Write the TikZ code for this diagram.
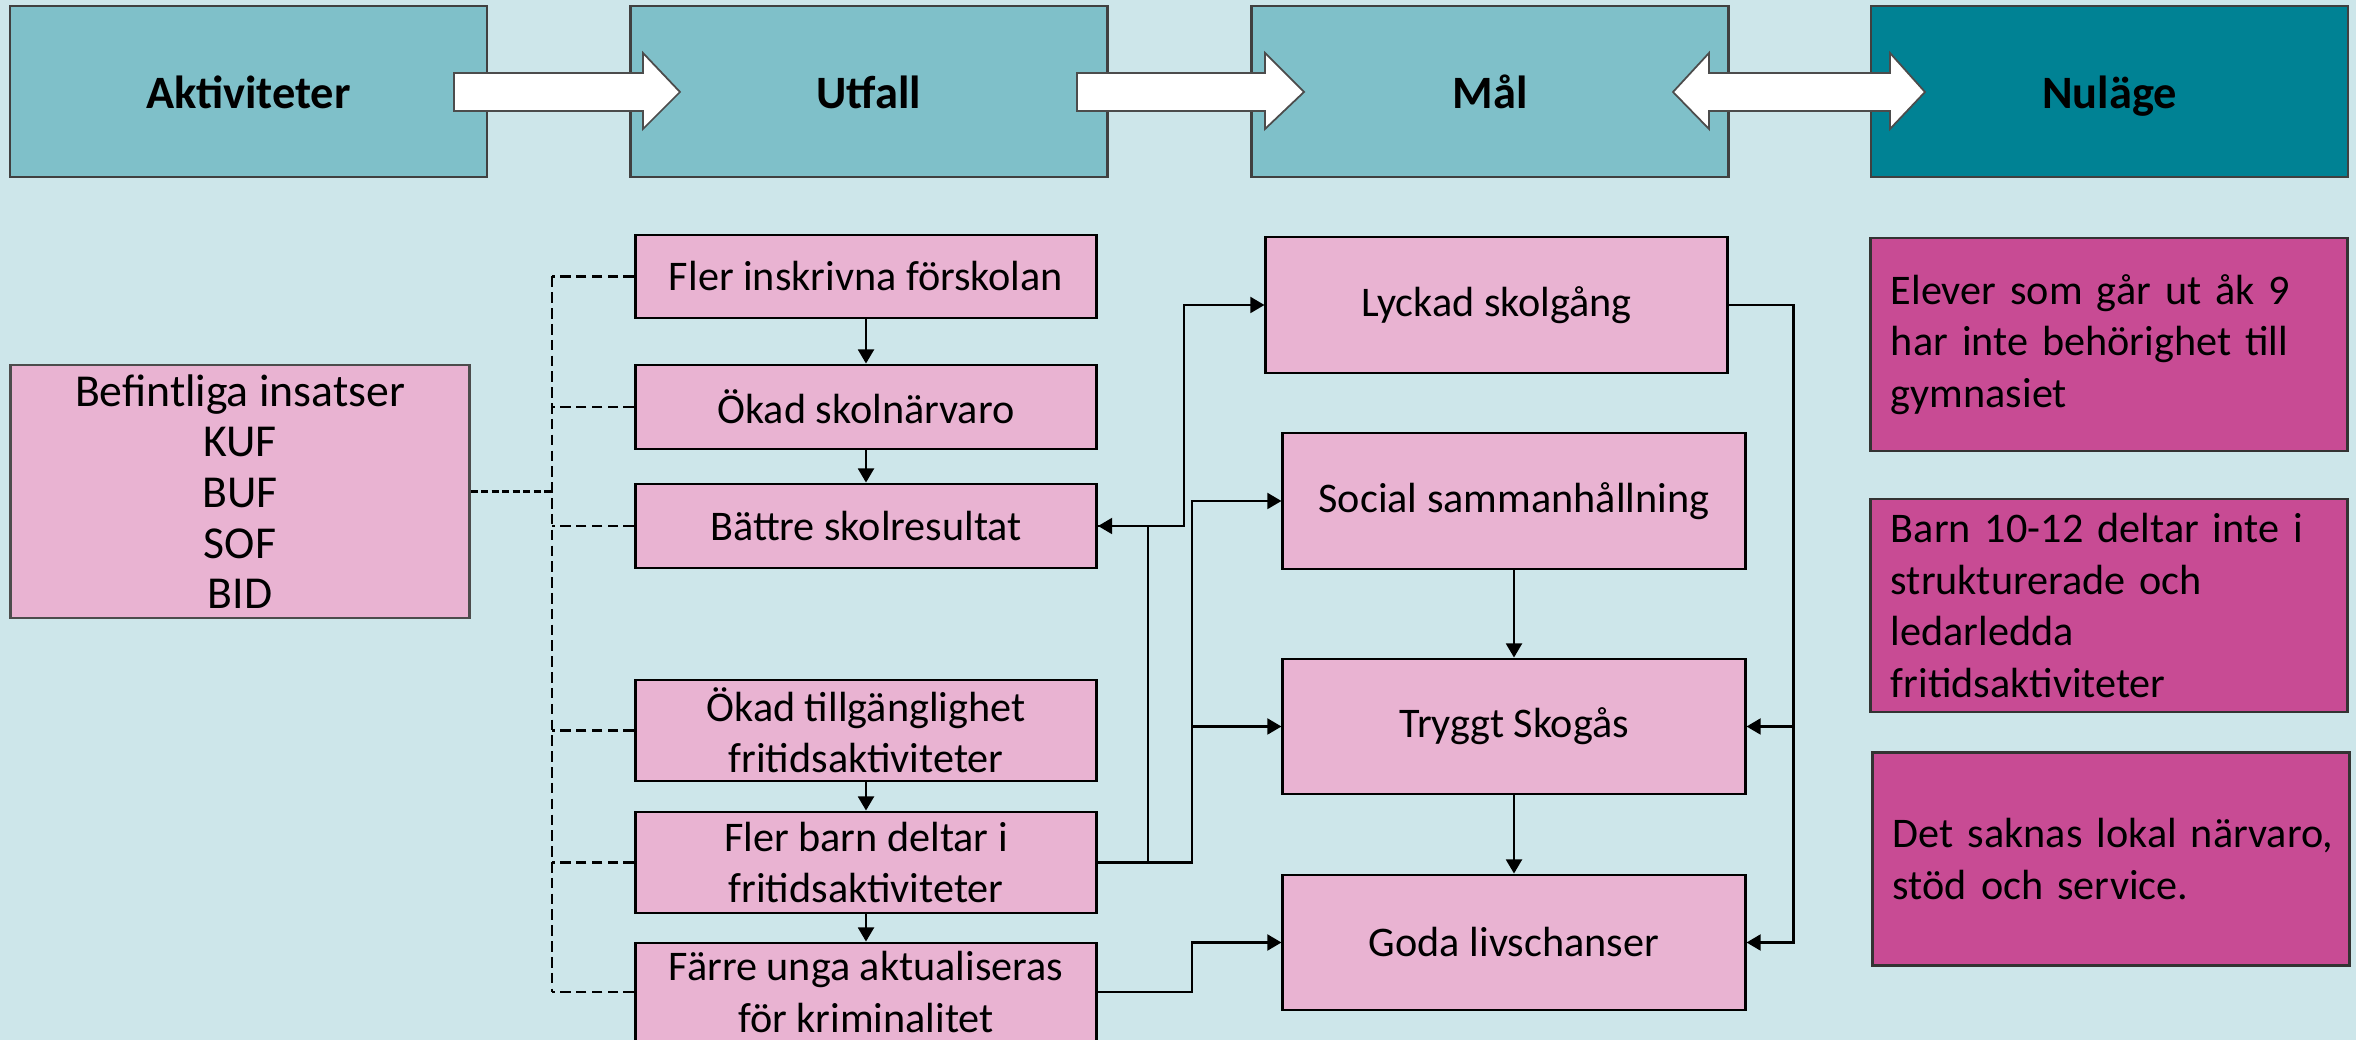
\documentclass[tikz,border=0pt]{standalone}
\usepackage{fontspec}
\setmainfont{Carlito}
\usetikzlibrary{arrows.meta}

\definecolor{bakgrund}{RGB}{205,230,234}
\definecolor{rubrik}{RGB}{127,192,201}
\definecolor{nulage}{RGB}{0,130,148}
\definecolor{rosa}{RGB}{233,179,210}
\definecolor{lila}{RGB}{200,75,148}

\begin{document}
\begin{tikzpicture}[x=0.01cm,y=-0.01cm,
  rubrikbox/.style={draw=black!75,line width=0.7pt,fill=rubrik,minimum width=4.77cm,minimum height=1.71cm,text height=0.34cm,text depth=0pt,font=\bfseries\fontsize{13.2}{16}\selectfont},
  ruta/.style={draw=black,line width=0.8pt,fill=rosa,minimum width=4.61cm,align=center,inner sep=0pt,font=\fontsize{12}{14.6}\selectfont},
  nuruta/.style={draw=black!80,line width=0.8pt,fill=lila,text width=4.76cm,inner xsep=0pt,inner ysep=0pt,minimum height=2.13cm,align=left,
    execute at begin node={\leftskip=0.2cm\hyphenpenalty=10000\relax},font=\fontsize{12}{14.6}\selectfont},
  pil/.style={-{Triangle[length=4pt,width=4.5pt]},line width=0.7pt},
  streck/.style={dash pattern=on 3pt off 1.5pt,line width=0.6pt},
  blockpil/.style={fill=white,draw=black!70,line width=0.5pt}]
\useasboundingbox (0,0) rectangle (2356,1040);
\fill[bakgrund] (0,0) rectangle (2356,1040);
\clip (0,0) rectangle (2356,1040);

% rubriker
\node[rubrikbox] (akt) at (248.5,91.5) {Aktiviteter};
\node[rubrikbox] (utf) at (869,91.5) {Utfall};
\node[rubrikbox] (mal) at (1490,91.5) {Mål};
\node[rubrikbox,fill=nulage] (nul) at (2109.5,91.5) {Nuläge};

\draw[blockpil] (454,73) -- (643,73) -- (643,53) -- (680,92) -- (643,129) -- (643,111) -- (454,111) -- cycle;
\draw[blockpil] (1077,73) -- (1265,73) -- (1265,53) -- (1304,92) -- (1265,129) -- (1265,111) -- (1077,111) -- cycle;
\draw[blockpil] (1673,92) -- (1709,53) -- (1709,73) -- (1890,73) -- (1890,53) -- (1925,92) -- (1890,129) -- (1890,111) -- (1709,111) -- (1709,129) -- cycle;

% aktiviteter
\node[ruta,draw=black!70,minimum width=4.58cm,minimum height=2.53cm,font=\fontsize{13}{14.4}\selectfont] (bef) at (240,491.5)
  {Befintliga insatser\\KUF\\BUF\\SOF\\BID};

% utfall
\node[ruta,minimum height=0.83cm] (fi) at (866,276.5) {Fler inskrivna förskolan};
\node[ruta,minimum height=0.84cm] (os) at (866,407) {Ökad skolnärvaro};
\node[ruta,minimum height=0.84cm] (bs) at (866,526) {Bättre skolresultat};
\node[ruta,minimum height=1.01cm] (ot) at (866,730.5) {Ökad tillgänglighet\\fritidsaktiviteter};
\node[ruta,minimum height=1.01cm] (fb) at (866,862.5) {Fler barn deltar i\\fritidsaktiviteter};
\node[ruta,minimum height=0.98cm] (fu) at (866,992) {Färre unga aktualiseras\\för kriminalitet};

% mål
\node[ruta,minimum height=1.36cm] (ly) at (1496.5,305) {Lyckad skolgång};
\node[ruta,minimum width=4.62cm,minimum height=1.36cm] (ss) at (1514,501) {Social sammanhållning};
\node[ruta,minimum width=4.62cm,minimum height=1.35cm] (ts) at (1514,726.5) {Tryggt Skogås};
\node[ruta,minimum width=4.62cm,minimum height=1.35cm] (gl) at (1514,942.5) {Goda livschanser};

% nuläge
\node[nuruta] (n1) at (2109,344.5) {Elever som går ut åk 9\\har inte behörighet till\\gymnasiet};
\node[nuruta] (n2) at (2109,605.5) {Barn 10-12 deltar inte i\\strukturerade och\\ledarledda\\fritidsaktiviteter};
\node[nuruta] (n3) at (2111,859) {Det saknas lokal närvaro,\\stöd och service.};

% streckade kopplingar
\coordinate (buss) at (552,0);
\draw[streck] (fi.west -| buss) -- (fu.west -| buss);
\foreach \n in {fi,os,bs,ot,fb,fu}
  \draw[streck] (\n.west) -- (\n.west -| buss);
\draw[dash pattern=on 2pt off 1pt,line width=1.1pt] (bef.east) -- (bef.east -| buss);

% pilar
\draw[pil] (fi.south) -- (os.north);
\draw[pil] (os.south) -- (bs.north);
\draw[pil] (ot.south) -- (fb.north);
\draw[pil] (fb.south) -- (fu.north);
\draw[pil] (bs.east) -- ++(86,0) |- (ly.west);
\draw[pil] (fb.east) -- ++(50,0) |- (bs.east);
\draw[pil] (fb.east) -- ++(94,0) |- (ss.west);
\draw[pil] (fb.east) -- ++(94,0) |- (ts.west);
\draw[pil] (fu.east) -- ++(94,0) |- (gl.west);
\draw[pil] (ly.east) -- ++(65,0) |- (ts.east);
\draw[pil] (ly.east) -- ++(65,0) |- (gl.east);
\draw[pil] (ss.south) -- (ts.north);
\draw[pil] (ts.south) -- (gl.north);
\end{tikzpicture}
\end{document}
